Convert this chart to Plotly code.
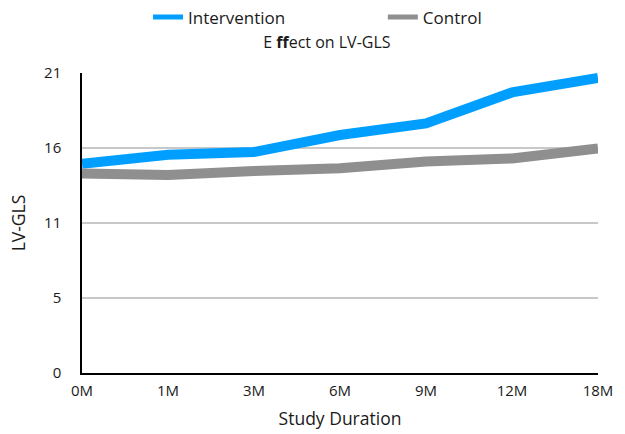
import plotly.graph_objects as go

# Study time points and LV-GLS values per group
durations = ["0M", "1M", "3M", "6M", "9M", "12M", "18M"]
intervention = [14.65, 15.28, 15.47, 16.66, 17.47, 19.64, 20.65]
control = [13.97, 13.86, 14.14, 14.33, 14.81, 15.02, 15.72]

# y-axis split into four equal steps over 0..21, labelled with rounded values
y_tickvals = [0, 5.25, 10.5, 15.75, 21]
y_ticktext = ["0", "5", "11", "16", "21"]

FONT = "Open Sans, Noto Sans, sans-serif"
TEXT = "#1a1a1a"
BLUE = "#009FFF"
GREY = "#8F8F8F"

fig = go.Figure()
fig.add_trace(go.Scatter(
    x=durations, y=intervention, name="Intervention", mode="lines",
    line=dict(color=BLUE, width=10), showlegend=False,
))
fig.add_trace(go.Scatter(
    x=durations, y=control, name="Control", mode="lines",
    line=dict(color=GREY, width=10), showlegend=False,
))

# legend entries drawn with a thinner key line, one legend per series
fig.add_trace(go.Scatter(
    x=[None], y=[None], name="Intervention", mode="lines",
    line=dict(color=BLUE, width=5), legend="legend",
))
fig.add_trace(go.Scatter(
    x=[None], y=[None], name="Control", mode="lines",
    line=dict(color=GREY, width=5), legend="legend2",
))

legend_style = dict(
    orientation="h", xanchor="left", yanchor="middle", y=1.185,
    font=dict(family=FONT, size=17, color=TEXT),
    bgcolor="rgba(0,0,0,0)", tracegroupgap=0,
)

fig.update_layout(
    width=625, height=434,
    margin=dict(l=82, r=27, t=73, b=61, autoexpand=False),
    paper_bgcolor="white", plot_bgcolor="white",
    font=dict(family=FONT, color=TEXT, size=15),
    title=dict(
        text="E <b>ff</b>ect on LV-GLS",
        x=0.523, xanchor="center", y=0.902, yanchor="middle",
        font=dict(family=FONT, size=16, color=TEXT),
    ),
    legend=dict(x=0.128, **legend_style),
    legend2=dict(x=0.583, **legend_style),
    showlegend=True,
)

fig.update_xaxes(
    type="category", range=[0, 6], automargin=False,
    showline=True, linecolor="black", linewidth=1.5,
    showgrid=False, ticks="", ticklen=0, ticklabelstandoff=3,
    tickfont=dict(family=FONT, size=15, color=TEXT),
    title=dict(text="Study Duration", font=dict(family=FONT, size=17.5, color=TEXT), standoff=14),
)
fig.update_yaxes(
    range=[0, 21], tickvals=y_tickvals, ticktext=y_ticktext, automargin=False,
    showline=True, linecolor="black", linewidth=1.5,
    showgrid=True, gridcolor="#c8c8c8", gridwidth=1.5,
    zeroline=False, ticks="", ticklabelstandoff=16,
    tickfont=dict(family=FONT, size=15, color=TEXT),
    title=dict(text="LV-GLS", font=dict(family=FONT, size=17.5, color=TEXT), standoff=14),
)

fig.write_html("out.html")
